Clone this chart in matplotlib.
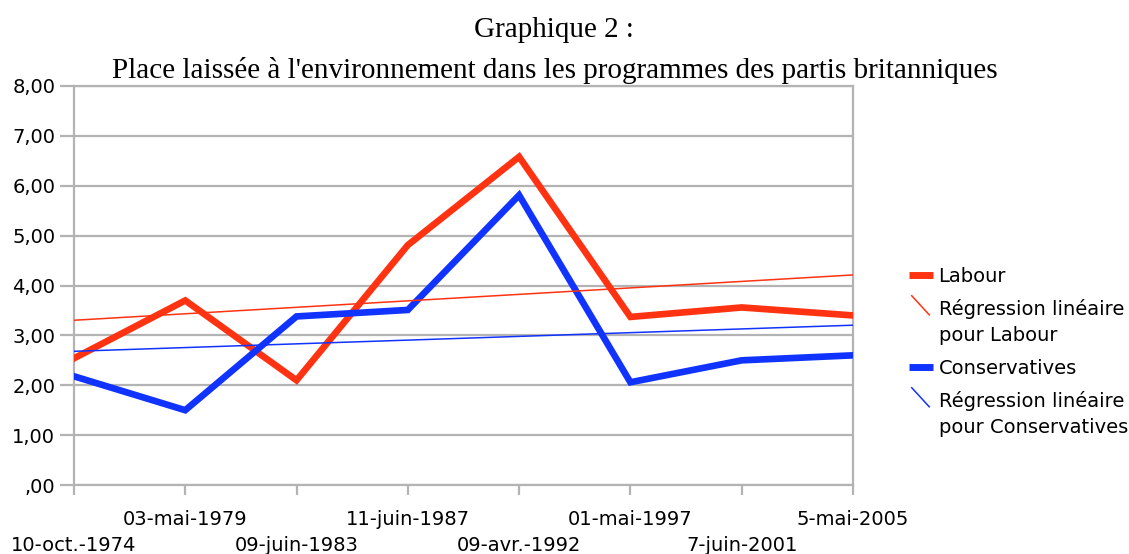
import numpy as np
import matplotlib.pyplot as plt
from matplotlib.lines import Line2D
from matplotlib.legend_handler import HandlerLine2D


DATES = ["10-oct.-1974", "03-mai-1979", "09-juin-1983", "11-juin-1987",
         "09-avr.-1992", "01-mai-1997", "7-juin-2001", "5-mai-2005"]
LABOUR = [2.54, 3.70, 2.10, 4.81, 6.58, 3.37, 3.56, 3.40]
CONSERVATIVES = [2.18, 1.50, 3.38, 3.51, 5.81, 2.06, 2.50, 2.60]
Y_TICKS = [0, 1, 2, 3, 4, 5, 6, 7, 8]

RED = "#ff3311"
BLUE = "#1133ff"
GRID = "#b3b3b3"
SANS = "DejaVu Sans"
SERIF = "Liberation Serif"


class DiagonalHandler(HandlerLine2D):
    # regression entries are drawn as a short diagonal stroke
    def create_artists(self, legend, orig_handle, xdescent, ydescent,
                       width, height, fontsize, trans):
        line = Line2D([xdescent + width * 0.1, xdescent + width * 0.85],
                      [height * 2.5, height * 1.1],
                      color=orig_handle.get_color(),
                      linewidth=orig_handle.get_linewidth())
        line.set_transform(trans)
        return [line]


def fmt(v):
    s = "%.2f" % v
    s = s.replace(".", ",")
    return s[1:] if s.startswith("0") else s


fig = plt.figure(figsize=(11.29, 5.54), dpi=100)
ax = fig.add_axes([0.0655, 0.1245, 0.69, 0.7203])

x = np.arange(len(DATES))

ax.plot(x, LABOUR, color=RED, linewidth=4.8, solid_joinstyle="miter", zorder=3)
ax.plot(x, CONSERVATIVES, color=BLUE, linewidth=4.8, solid_joinstyle="miter", zorder=3)

lab_fit = np.polyfit(x, LABOUR, 1)
con_fit = np.polyfit(x, CONSERVATIVES, 1)
ax.plot(x, np.polyval(lab_fit, x), color=RED, linewidth=1.1, zorder=4)
ax.plot(x, np.polyval(con_fit, x), color=BLUE, linewidth=1.1, zorder=4)

ax.set_xlim(0, len(DATES) - 1)
ax.set_ylim(0, 8)

ax.set_yticks(Y_TICKS)
ax.set_yticklabels([fmt(v) for v in Y_TICKS], fontfamily=SANS, fontsize=14)

# odd dates on the upper row (major), even dates on the lower row (minor)
ax.set_xticks(x[1::2])
ax.set_xticklabels(DATES[1::2], fontfamily=SANS, fontsize=14)
ax.set_xticks(x[0::2], minor=True)
ax.set_xticklabels(DATES[0::2], minor=True, fontfamily=SANS, fontsize=14)

ax.grid(axis="y", color=GRID, linewidth=1.6)
ax.set_axisbelow(True)
for sp in ax.spines.values():
    sp.set_color(GRID)
    sp.set_linewidth(1.6)
ax.tick_params(axis="x", which="major", color=GRID, width=1.6, length=7, pad=11)
ax.tick_params(axis="x", which="minor", color=GRID, width=1.6, length=7, pad=29.5)
ax.tick_params(axis="y", color=GRID, width=1.6, length=10, pad=3.5)

handles = [
    Line2D([], [], color=RED, linewidth=5.0, solid_capstyle="butt"),
    Line2D([], [], color=RED, linewidth=1.1),
    Line2D([], [], color=BLUE, linewidth=5.0, solid_capstyle="butt"),
    Line2D([], [], color=BLUE, linewidth=1.1),
]
labels = ["Labour", "Régression linéaire\npour Labour",
          "Conservatives", "Régression linéaire\npour Conservatives"]
leg = fig.legend(handles, labels, loc="upper left", bbox_to_anchor=(0.79, 0.55),
                 frameon=False, prop={"family": SANS, "size": 14},
                 handlelength=1.2, handletextpad=0.3, labelspacing=0.7,
                 handler_map={handles[1]: DiagonalHandler(),
                              handles[3]: DiagonalHandler()})
for t in leg.get_texts():
    t.set_linespacing(1.45)

fig.text(0.491, 0.945, "Graphique 2 :", ha="center", va="center",
         fontfamily=SERIF, fontsize=21)
fig.text(0.491, 0.873,
         "Place laissée à l'environnement dans les programmes des partis britanniques",
         ha="center", va="center", fontfamily=SERIF, fontsize=21)

fig.savefig("out.png", dpi=100)
